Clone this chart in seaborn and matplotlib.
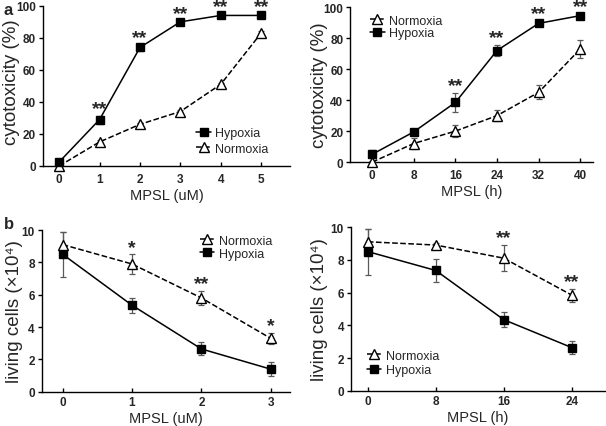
import matplotlib
matplotlib.use("Agg")
import matplotlib.pyplot as plt
import seaborn as sns

# panel a, left: dose
dose_a = [0, 1, 2, 3, 4, 5]
hyp_dose_a = [2.5, 29, 74, 90, 94, 94]
hyp_dose_a_err = [1.5, 2.5, 2, 1, 1, 1]
nor_dose_a = [0, 15, 26, 34, 51, 83]
nor_dose_a_err = [1, 1.5, 1, 1, 1, 1]
stars_dose_a = ["", "**", "**", "**", "**", "**"]

# panel a, right: time
time_a = [0, 8, 16, 24, 32, 40]
hyp_time_a = [5, 19.5, 38.5, 72, 89.5, 94.5]
hyp_time_a_err = [2.5, 1.5, 6, 3.5, 2, 1]
nor_time_a = [0, 12, 20, 30, 45, 73]
nor_time_a_err = [1, 3.5, 4, 3.5, 4.5, 6]
stars_time_a = ["", "", "**", "**", "**", "**"]

# panel b, left: dose
dose_b = [0, 1, 2, 3]
nor_dose_b = [9.1, 7.9, 5.8, 3.3]
nor_dose_b_err = [0.75, 0.6, 0.45, 0.35]
hyp_dose_b = [8.5, 5.35, 2.65, 1.4]
hyp_dose_b_err = [1.4, 0.45, 0.4, 0.45]
stars_dose_b = ["", "*", "**", "*"]

# panel b, right: time
time_b = [0, 8, 16, 24]
nor_time_b = [9.1, 8.9, 8.1, 5.85]
nor_time_b_err = [0.8, 0.1, 0.8, 0.4]
hyp_time_b = [8.5, 7.35, 4.35, 2.65]
hyp_time_b_err = [1.4, 0.7, 0.45, 0.4]
stars_time_b = ["", "", "**", "**"]

sns.set_style("ticks")
plt.rcParams["font.family"] = ["Liberation Sans", "DejaVu Sans"]

fig = plt.figure(figsize=(6.06, 4.27), dpi=100)


def draw_series(ax, x, y, err, kind):
    if kind == "Hypoxia":
        style = dict(marker="s", markersize=5.2, linestyle="-", markerfacecolor="black")
    else:
        style = dict(marker="^", markersize=6.5, linestyle="--", markerfacecolor="white")
    ax.errorbar(x, y, yerr=err, fmt="none", ecolor="0.35", elinewidth=0.9,
                capsize=2, capthick=0.9, zorder=2, clip_on=False)
    sns.lineplot(x=x, y=y, ax=ax, color="black", linewidth=1.1,
                 markeredgecolor="black", markeredgewidth=1.0,
                 label=kind, zorder=3, clip_on=False, **style)


def add_stars(ax, x, y, err, stars, pad):
    for xi, yi, ei, s in zip(x, y, err, stars):
        if s:
            ax.annotate(s, (xi, yi + ei), xytext=(0, pad), textcoords="offset points",
                        ha="center", va="bottom", fontsize=14, fontweight="bold",
                        annotation_clip=False)


def style_axes(ax, xticks, yticks, xlim, ylim, xlabel, ylabel, ylab_pos, xpad):
    ax.set_xlim(*xlim)
    ax.set_ylim(*ylim)
    ax.set_xticks(xticks)
    ax.set_yticks(yticks)
    sns.despine(ax=ax)
    ax.tick_params(labelsize=8.5, width=1, length=3, color="black")
    ax.tick_params(axis="x", direction="in", pad=xpad)
    ax.tick_params(axis="y", direction="out", pad=2)
    for lab in ax.get_xticklabels() + ax.get_yticklabels():
        lab.set_fontweight("bold")
    for sp in ax.spines.values():
        sp.set_linewidth(1.0)
        sp.set_color("black")
    ax.set_xlabel(xlabel, fontsize=10.5, labelpad=2)
    ax.set_ylabel(ylabel, fontsize=13.5)
    ax.yaxis.set_label_coords(*ylab_pos)


def legend(ax, order, loc, anchor, spacing):
    h, l = ax.get_legend_handles_labels()
    d = dict(zip(l, h))
    ax.legend([d[k] for k in order], order, loc=loc, bbox_to_anchor=anchor,
              frameon=False, fontsize=9, handlelength=1.15, handletextpad=0.35,
              labelspacing=spacing, borderaxespad=0, borderpad=0)


cells_label = "living cells (\u00d710\u2074)"

ax1 = fig.add_axes([0.071, 0.609, 0.408, 0.375])
draw_series(ax1, dose_a, nor_dose_a, nor_dose_a_err, "Normoxia")
draw_series(ax1, dose_a, hyp_dose_a, hyp_dose_a_err, "Hypoxia")
add_stars(ax1, dose_a, hyp_dose_a, hyp_dose_a_err, stars_dose_a, -1)
style_axes(ax1, dose_a, [0, 20, 40, 60, 80, 100], (-0.4, 5.72), (0, 100),
           "MPSL (uM)", "cytotoxicity (%)", (-0.093, 0.53), 5)
legend(ax1, ["Hypoxia", "Normoxia"], "lower left", (0.62, 0.07), 0.3)

ax2 = fig.add_axes([0.578, 0.618, 0.401, 0.363])
draw_series(ax2, time_a, nor_time_a, nor_time_a_err, "Normoxia")
draw_series(ax2, time_a, hyp_time_a, hyp_time_a_err, "Hypoxia")
add_stars(ax2, time_a, hyp_time_a, hyp_time_a_err, stars_time_a, -1)
style_axes(ax2, time_a, [0, 20, 40, 60, 80, 100], (-4.2, 42.5), (0, 100),
           "MPSL (h)", "cytotoxicity (%)", (-0.09, 0.5), 5)
legend(ax2, ["Normoxia", "Hypoxia"], "upper left", (0.082, 0.95), 0.03)

ax3 = fig.add_axes([0.069, 0.080, 0.41, 0.379])
draw_series(ax3, dose_b, hyp_dose_b, hyp_dose_b_err, "Hypoxia")
draw_series(ax3, dose_b, nor_dose_b, nor_dose_b_err, "Normoxia")
add_stars(ax3, dose_b, nor_dose_b, nor_dose_b_err, stars_dose_b, -1)
style_axes(ax3, dose_b, [0, 2, 4, 6, 8, 10], (-0.3, 3.28), (0, 10),
           "MPSL (uM)", cells_label, (-0.077, 0.5), 3)
legend(ax3, ["Normoxia", "Hypoxia"], "upper left", (0.637, 0.97), 0.06)

ax4 = fig.add_axes([0.579, 0.082, 0.419, 0.384])
draw_series(ax4, time_b, hyp_time_b, hyp_time_b_err, "Hypoxia")
draw_series(ax4, time_b, nor_time_b, nor_time_b_err, "Normoxia")
add_stars(ax4, time_b, nor_time_b, nor_time_b_err, stars_time_b, -1)
style_axes(ax4, time_b, [0, 2, 4, 6, 8, 10], (-2.0, 27.9), (0, 10),
           "MPSL (h)", cells_label, (-0.09, 0.5), 3)
legend(ax4, ["Normoxia", "Hypoxia"], "lower left", (0.063, 0.09), 0.2)

fig.text(0.006, 0.976, "a", fontsize=12, fontweight="bold", va="center")
fig.text(0.006, 0.475, "b", fontsize=12, fontweight="bold", va="center")

fig.savefig("out.png", dpi=100)
